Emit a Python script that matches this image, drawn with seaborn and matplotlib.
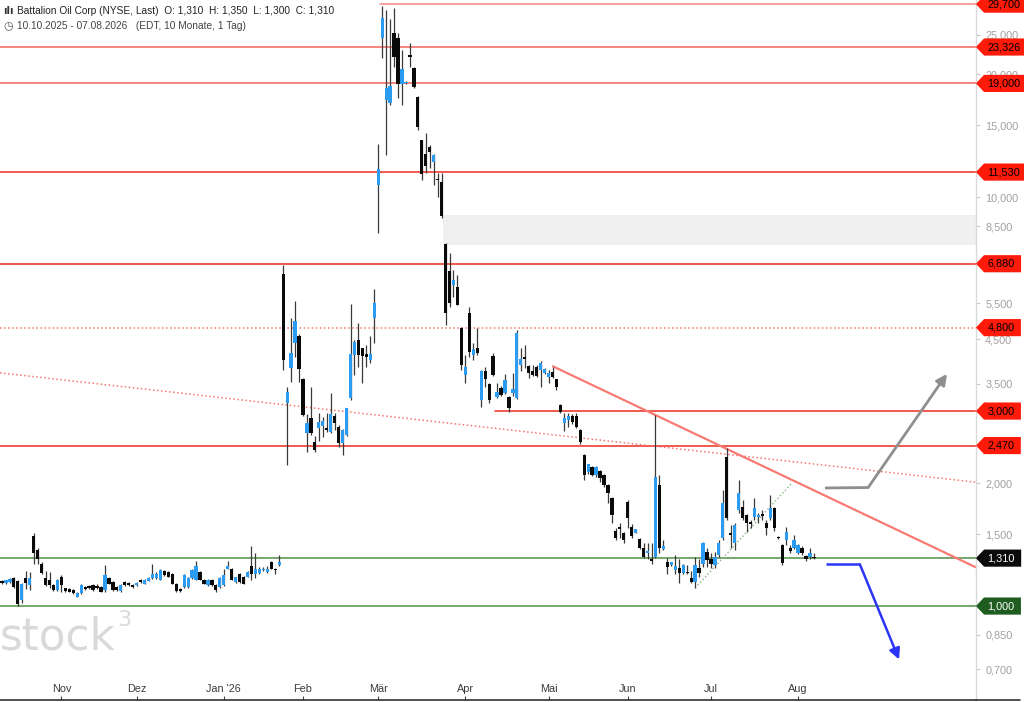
import numpy as np
import pandas as pd
import matplotlib
matplotlib.use('Agg')
import matplotlib.pyplot as plt
from matplotlib.lines import Line2D
from matplotlib.path import Path
from matplotlib.ticker import NullLocator
import seaborn as sns

# PART 1: DATA

# NYSE trading days of the shown period
nyse_holidays = ['2025-11-27', '2025-12-25', '2026-01-01', '2026-01-19', '2026-02-16',
                 '2026-04-03', '2026-05-25', '2026-06-19', '2026-07-03']
dates = pd.bdate_range('2025-10-13', '2026-08-07', freq='C', holidays=nyse_holidays)

opens = [1.15, 1.14, 1.147, 1.17, 1.15, 1.035, 1.17, 1.125, 1.48, 1.37,
         1.27, 1.17, 1.16, 1.125, 1.095, 1.18, 1.105, 1.10, 1.095, 1.055,
         1.075, 1.115, 1.12, 1.125, 1.12, 1.115, 1.095, 1.17, 1.145, 1.115,
         1.09, 1.145, 1.14, 1.125, 1.125, 1.16, 1.135, 1.153, 1.17, 1.17,
         1.16, 1.22, 1.21, 1.20, 1.135, 1.10, 1.115, 1.115, 1.17, 1.16,
         1.21, 1.16, 1.125, 1.16, 1.125, 1.115, 1.125, 1.235, 1.235, 1.147,
         1.20, 1.18, 1.18, 1.25, 1.20, 1.205, 1.225, 1.21, 1.285, 1.235, 1.26,
         6.5, 3.14, 3.82, 4.4, 4.58, 3.59, 2.65, 2.88, 2.52, 2.73,
         2.76, 2.73, 2.67, 2.92, 2.74, 2.50, 2.62, 3.22, 4.12, 4.48,
         4.27, 4.14, 4.0, 5.07, 10.7, 24.5, 17.3, 17.0, 25.2, 24.5,
         18.9, 19.0, 22.2, 20.7, 17.6, 13.8, 12.8, 13.3, 12.2, 11.1,
         10.9, 7.7, 6.6, 6.1, 6.03, 4.79, 3.68, 5.2, 4.12, 4.27,
         3.19, 3.76, 3.49, 4.09, 3.25, 3.41, 3.32, 3.25, 3.32, 3.23,
         3.89, 4.07, 3.86, 3.76, 3.84, 3.78, 3.72, 3.63, 3.74, 3.59,
         3.10, 2.80, 2.86, 2.91, 2.91, 2.70, 2.34, 2.13, 2.19, 2.09,
         2.14, 2.09, 1.98, 1.84, 1.53, 1.56, 1.51, 1.80, 1.56, 1.51,
         1.46, 1.39, 1.345, 1.30, 1.32, 1.98, 1.38, 1.28, 1.26, 1.225,
         1.24, 1.205, 1.21, 1.17, 1.145, 1.24, 1.27, 1.355, 1.30, 1.26,
         1.33, 1.47, 2.32, 1.51, 1.43, 1.72, 1.75, 1.67, 1.60, 1.65,
         1.65, 1.68, 1.60, 1.64, 1.74, 1.475, 1.41, 1.45, 1.39, 1.39,
         1.35, 1.39, 1.325, 1.32, 1.31]

highs = [1.16, 1.16, 1.17, 1.175, 1.16, 1.14, 1.22, 1.21, 1.51, 1.39,
         1.28, 1.22, 1.21, 1.13, 1.165, 1.19, 1.11, 1.105, 1.10, 1.08,
         1.13, 1.12, 1.125, 1.13, 1.13, 1.12, 1.26, 1.18, 1.15, 1.12,
         1.13, 1.15, 1.145, 1.13, 1.145, 1.165, 1.165, 1.175, 1.27, 1.21,
         1.23, 1.225, 1.215, 1.205, 1.14, 1.105, 1.195, 1.175, 1.23, 1.29,
         1.215, 1.165, 1.165, 1.165, 1.13, 1.175, 1.235, 1.29, 1.24, 1.18,
         1.205, 1.185, 1.215, 1.40, 1.35, 1.245, 1.245, 1.25, 1.29, 1.24, 1.33,
         6.85, 3.43, 5.06, 5.58, 4.62, 3.61, 2.95, 3.43, 2.60, 2.97,
         2.90, 2.97, 3.32, 2.97, 2.77, 2.71, 3.06, 5.48, 4.48, 4.94,
         4.28, 4.35, 4.59, 5.97, 13.5, 29.4, 28.7, 27.3, 29.0, 25.2,
         22.9, 19.3, 23.9, 20.8, 17.7, 13.8, 14.4, 13.4, 12.8, 11.5,
         11.5, 7.75, 7.3, 6.64, 6.45, 4.81, 4.11, 5.39, 4.40, 4.79,
         3.77, 3.84, 3.51, 4.16, 3.51, 3.45, 3.69, 3.27, 3.71, 4.74,
         4.27, 4.35, 3.88, 3.89, 3.88, 3.97, 3.82, 3.78, 3.84, 3.60,
         3.13, 2.97, 2.97, 2.95, 2.97, 2.71, 2.35, 2.23, 2.20, 2.20,
         2.15, 2.11, 1.99, 1.85, 1.55, 1.60, 1.52, 1.82, 1.59, 1.545,
         1.47, 1.43, 1.43, 1.43, 2.93, 2.09, 1.45, 1.31, 1.285, 1.33,
         1.30, 1.265, 1.26, 1.22, 1.32, 1.30, 1.435, 1.39, 1.35, 1.355,
         1.45, 1.92, 2.43, 1.58, 1.60, 2.03, 1.82, 1.68, 1.62, 1.84,
         1.69, 1.72, 1.62, 1.87, 1.75, 1.48, 1.415, 1.56, 1.41, 1.49,
         1.42, 1.40, 1.33, 1.39, 1.35]

lows = [1.13, 1.135, 1.14, 1.11, 1.0, 1.02, 1.10, 1.095, 1.27, 1.27,
        1.20, 1.12, 1.11, 1.09, 1.09, 1.085, 1.085, 1.08, 1.07, 1.05,
        1.07, 1.095, 1.10, 1.09, 1.10, 1.08, 1.085, 1.13, 1.09, 1.09,
        1.085, 1.12, 1.12, 1.11, 1.12, 1.14, 1.13, 1.15, 1.165, 1.165,
        1.155, 1.185, 1.175, 1.13, 1.085, 1.085, 1.11, 1.11, 1.165, 1.155,
        1.155, 1.13, 1.12, 1.12, 1.085, 1.11, 1.12, 1.23, 1.155, 1.14,
        1.14, 1.13, 1.175, 1.16, 1.17, 1.20, 1.22, 1.205, 1.23, 1.20, 1.255,
        3.78, 2.21, 3.53, 4.06, 3.53, 2.92, 2.38, 2.62, 2.38, 2.53,
        2.59, 2.67, 2.65, 2.70, 2.45, 2.34, 2.60, 3.20, 3.67, 3.84,
        3.51, 3.84, 3.93, 4.40, 8.17, 21.9, 12.7, 16.8, 20.9, 17.5,
        16.8, 18.9, 20.8, 18.5, 14.6, 11.0, 11.5, 11.8, 10.7, 10.0,
        8.9, 4.86, 5.4, 5.7, 5.45, 3.78, 3.51, 4.07, 4.0, 4.12,
        3.07, 3.43, 3.14, 3.65, 3.23, 3.26, 3.30, 2.98, 3.27, 3.21,
        3.76, 3.82, 3.62, 3.65, 3.63, 3.43, 3.70, 3.51, 3.62, 3.38,
        2.96, 2.68, 2.74, 2.79, 2.72, 2.49, 2.03, 2.11, 2.08, 2.07,
        2.01, 1.96, 1.79, 1.60, 1.45, 1.47, 1.43, 1.55, 1.47, 1.505,
        1.38, 1.31, 1.30, 1.27, 1.31, 1.35, 1.37, 1.20, 1.25, 1.20,
        1.14, 1.20, 1.20, 1.14, 1.105, 1.18, 1.245, 1.245, 1.24, 1.24,
        1.32, 1.45, 1.62, 1.39, 1.37, 1.69, 1.62, 1.52, 1.55, 1.62,
        1.60, 1.62, 1.49, 1.62, 1.53, 1.46, 1.26, 1.41, 1.35, 1.38,
        1.34, 1.335, 1.29, 1.30, 1.30]

closes = [1.14, 1.155, 1.162, 1.115, 1.01, 1.135, 1.14, 1.17, 1.35, 1.30,
          1.205, 1.125, 1.125, 1.095, 1.16, 1.125, 1.09, 1.085, 1.075, 1.075,
          1.125, 1.10, 1.105, 1.095, 1.105, 1.085, 1.19, 1.135, 1.095, 1.095,
          1.125, 1.125, 1.125, 1.115, 1.14, 1.147, 1.16, 1.17, 1.20, 1.20,
          1.225, 1.19, 1.18, 1.135, 1.09, 1.09, 1.19, 1.17, 1.225, 1.25,
          1.16, 1.135, 1.16, 1.125, 1.095, 1.17, 1.19, 1.25, 1.16, 1.175,
          1.147, 1.135, 1.21, 1.20, 1.235, 1.235, 1.235, 1.235, 1.235, 1.225, 1.285,
          4.0, 3.34, 4.16, 4.97, 3.80, 2.94, 2.80, 2.65, 2.41, 2.82,
          2.84, 2.70, 2.95, 2.80, 2.50, 2.70, 3.05, 4.14, 4.42, 4.12,
          4.09, 4.07, 4.14, 5.51, 11.75, 27.4, 18.5, 18.7, 22.0, 18.9,
          20.6, 19.2, 22.1, 18.6, 14.9, 11.4, 11.9, 12.9, 12.7, 11.0,
          9.0, 5.2, 5.5, 6.28, 5.46, 3.89, 3.84, 4.18, 4.25, 4.16,
          3.76, 3.59, 3.19, 3.67, 3.34, 3.29, 3.57, 3.05, 3.40, 4.66,
          4.02, 4.03, 3.72, 3.67, 3.66, 3.93, 3.80, 3.72, 3.63, 3.43,
          2.98, 2.89, 2.91, 2.82, 2.74, 2.52, 2.09, 2.22, 2.09, 2.19,
          2.06, 1.98, 1.89, 1.67, 1.47, 1.54, 1.45, 1.64, 1.48, 1.54,
          1.39, 1.32, 1.36, 1.29, 2.07, 1.39, 1.40, 1.245, 1.28, 1.25,
          1.205, 1.26, 1.205, 1.145, 1.26, 1.205, 1.43, 1.295, 1.27, 1.32,
          1.43, 1.79, 1.64, 1.49, 1.58, 1.89, 1.64, 1.60, 1.59, 1.74,
          1.67, 1.66, 1.55, 1.74, 1.55, 1.465, 1.275, 1.52, 1.36, 1.45,
          1.41, 1.35, 1.30, 1.35, 1.31]

# German month labels for the x axis
month_names = {1: "Jan '26", 2: 'Feb', 3: 'Mär', 4: 'Apr', 5: 'Mai', 6: 'Jun',
               7: 'Jul', 8: 'Aug', 11: 'Nov', 12: 'Dez'}

# price levels drawn as horizontal lines: value, first candle index, colour, style
level_values = [29.7, 23.326, 19.0, 11.53, 6.88, 4.8, 3.0, 2.47, 1.31, 1.0]
level_starts = [95.5, -0.5, -0.5, -0.5, -0.5, -0.5, 124.5, -0.5, -0.5, -0.5]
level_colors = ['#f7877f', '#f4655b', '#f4655b', '#ee2b1f', '#ee2b1f', '#f4766d',
                '#ee2b1f', '#ee2b1f', '#4f8f45', '#4f8f45']
level_styles = ['-', '-', '-', '-', '-', ':', '-', '-', '-', '-']

# price tags on the right axis
tag_values = [29.7, 23.326, 19.0, 11.53, 6.88, 4.8, 3.0, 2.47, 1.31, 1.0]
tag_fill = ['#ff1a0a'] * 8 + ['#0b0b0b', '#1f5c1f']
tag_text = ['black'] * 8 + ['white', 'white']

# grey tick labels of the log price axis
tick_values = [25, 20, 15, 10, 8.5, 7, 5.5, 4.5, 3.5, 2, 1.5, 0.85, 0.7]

# drawn trend lines (candle index, price)
dotted_trend_x = [-0.5, 245.8]
dotted_trend_y = [3.72, 2.01]
down_trend_x = [139.1, 245.8]
down_trend_y = [3.86, 1.245]
up_trend_x = [175.0, 199.5]
up_trend_y = [1.107, 2.0]

# scenario arrows
grey_arrow_x = [207.8, 218.7, 238.6]
grey_arrow_y = [1.945, 1.95, 3.70]
blue_arrow_x = [208.1, 216.6, 226.5]
blue_arrow_y = [1.265, 1.265, 0.74]

# gap box
gap_x = [111.4, 245.8]
gap_low, gap_high = 7.64, 9.04


def de_fmt(v):
    return f'{v:.3f}'.replace('.', ',')


def price_tag(x0, y0, width, height, mutation_size):
    # flat label with a pointed left end, like the broker's price tags
    pad_x = 0.3 * mutation_size
    pad_y = 0.33 * mutation_size
    left, right = x0 - pad_x, x0 + width + 0.6 * mutation_size
    bottom, top = y0 - pad_y, y0 + height + pad_y
    tip = 0.75 * mutation_size
    verts = [(left - tip, (top + bottom) / 2), (left, top), (right, top),
             (right, bottom), (left, bottom), (left - tip, (top + bottom) / 2)]
    codes = [Path.MOVETO] + [Path.LINETO] * 4 + [Path.CLOSEPOLY]
    return Path(verts, codes)


# PART 2: BUILD TABLE AND STYLE

df = pd.DataFrame({'date': dates[:len(opens)], 'open': opens, 'high': highs,
                   'low': lows, 'close': closes})
df['pos'] = np.arange(len(df))
df['up'] = df['close'] > df['open']
df['body_low'] = df[['open', 'close']].min(axis=1)
df['body_h'] = np.maximum((df['close'] - df['open']).abs(), df['body_low'] * 0.007)

sns.set_theme(style='white')
plt.rcParams['font.family'] = ['Liberation Sans', 'DejaVu Sans']

fig = plt.figure(figsize=(10.24, 7.02), dpi=100)
ax = fig.add_axes([0, 2 / 702, 975.5 / 1024, 700 / 702])
ax.set_yscale('log')
ax.set_xlim(-0.5, 245.8)
ax.set_ylim(0.589, 30.4)

# PART 3: OVERLAYS

ax.fill_between(gap_x, gap_low, gap_high, color='#eff0ef', lw=0, zorder=1)

for val, start, col, ls in zip(level_values, level_starts, level_colors, level_styles):
    ax.plot([start, 245.8], [val, val], color=col, lw=1.1, ls=ls, zorder=2)

sns.lineplot(x=dotted_trend_x, y=dotted_trend_y, ax=ax, color='#f4766d', lw=1.1,
             linestyle=':', zorder=2)
sns.lineplot(x=down_trend_x, y=down_trend_y, ax=ax, color='#f87a72', lw=1.6, zorder=2)
sns.lineplot(x=up_trend_x, y=up_trend_y, ax=ax, color='#86b97e', lw=1.0,
             linestyle=':', zorder=2)

# PART 4: CANDLES

ax.vlines(df['pos'], df['low'], df['high'], color='#3a3a3a', lw=0.9, zorder=3)
ax.bar(df['pos'], df['body_h'], bottom=df['body_low'], width=0.82,
       color=np.where(df['up'], '#2b9cf2', '#0a0a0a'), lw=0, zorder=4)

# scenario arrows
ax.plot(grey_arrow_x[:2], grey_arrow_y[:2], color='#8f8f8f', lw=2, zorder=5,
        solid_capstyle='butt')
ax.annotate('', xy=(grey_arrow_x[2], grey_arrow_y[2]),
            xytext=(grey_arrow_x[1], grey_arrow_y[1]),
            arrowprops=dict(arrowstyle='-|>', color='#8f8f8f', lw=2,
                            mutation_scale=16, shrinkA=0, shrinkB=0), zorder=5)
ax.plot(blue_arrow_x[:2], blue_arrow_y[:2], color='#2b35f5', lw=1.8, zorder=5,
        solid_capstyle='butt')
ax.annotate('', xy=(blue_arrow_x[2], blue_arrow_y[2]),
            xytext=(blue_arrow_x[1], blue_arrow_y[1]),
            arrowprops=dict(arrowstyle='-|>', color='#2b35f5', lw=1.8,
                            mutation_scale=16, shrinkA=0, shrinkB=0), zorder=5)

# PART 5: AXES

for side in ['top', 'left']:
    ax.spines[side].set_visible(False)
ax.spines['right'].set_color('#d9d9d9')
ax.spines['right'].set_linewidth(1)
ax.spines['bottom'].set_color('#333333')
ax.spines['bottom'].set_linewidth(1.2)

month_first = df.groupby(df['date'].dt.to_period('M'))['pos'].first()
month_first = month_first[[p.month != 10 for p in month_first.index]]
ax.set_xticks(month_first.values)
ax.set_xticklabels([])
ax.tick_params(axis='x', direction='in', length=3, width=0.8, color='#444444', bottom=True)
for per, pos in month_first.items():
    ax.text(pos, 11 / 700, month_names[per.month], transform=ax.get_xaxis_transform(),
            ha='center', va='center', fontsize=7.8, color='#3a3a3a')

ax.yaxis.tick_right()
ax.yaxis.set_minor_locator(NullLocator())
ax.set_yticks(tick_values)
ax.set_yticklabels([de_fmt(v) for v in tick_values])
ax.tick_params(axis='y', right=True, length=3, width=0.8, color='#c8c8c8',
               labelcolor='#a0a0a0', labelsize=7.8, pad=4)
ax.grid(False)

for val, fc, tc in zip(tag_values, tag_fill, tag_text):
    ax.annotate(de_fmt(val), xy=(1, val), xycoords=ax.get_yaxis_transform(),
                xytext=(8.5, 0), textcoords='offset points', ha='left', va='center',
                fontsize=7.8, color=tc, annotation_clip=False, zorder=10,
                bbox=dict(boxstyle=price_tag, fc=fc, ec='none'))

# bottom axis line runs on under the price scale
fig.add_artist(Line2D([975.5 / 1024, 1020 / 1024], [2 / 702, 2 / 702],
                      color='#333333', lw=1.2))

# watermark and header
ax.text(0.0, 50 / 700, 'stock', transform=ax.transAxes, fontsize=31.5,
        family='DejaVu Sans', color='#d9d9d9', va='baseline', ha='left', zorder=0)
ax.text(117 / 975.5, 74 / 700, '3', transform=ax.transAxes, fontsize=16,
        family='DejaVu Sans', color='#d9d9d9', va='baseline', ha='left', zorder=0)

fig.text(3 / 1024, 1 - 11 / 702, 'ılı', fontsize=7, family='DejaVu Sans',
         color='#333333', va='center', weight='bold')
fig.text(17 / 1024, 1 - 11 / 702,
         'Battalion Oil Corp (NYSE, Last)  O: 1,310  H: 1,350  L: 1,300  C: 1,310',
         fontsize=7.3, color='#222222', va='center')
fig.text(3 / 1024, 1 - 26 / 702, '◷', fontsize=8, family='DejaVu Sans',
         color='#555555', va='center')
fig.text(17 / 1024, 1 - 26 / 702, '10.10.2025 - 07.08.2026   (EDT, 10 Monate, 1 Tag)',
         fontsize=7.3, color='#444444', va='center')

plt.savefig('out.png', dpi=100)
